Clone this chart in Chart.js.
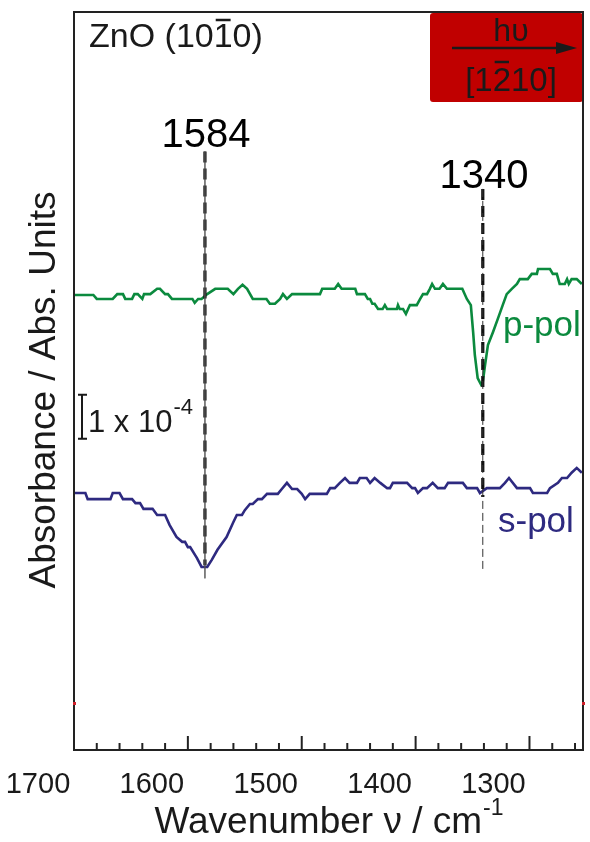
<!DOCTYPE html>
<html lang="en">
<head>
<meta charset="UTF-8">
<title>ZnO (10-10) IR</title>
<script src="https://cdn.jsdelivr.net/npm/chart.js"></script>
<style>
  html, body { margin: 0; padding: 0; background: #fff; }
  #wrap { width: 590px; height: 842px; }
</style>
</head>
<body>
<div id="wrap"><canvas id="grafico" width="590" height="842"></canvas></div>
<script>
// wavenumber (cm-1) and absorbance (1e-4 units, curves offset)
const pPolNu = [1700, 1683, 1680, 1666, 1662, 1657, 1655, 1649, 1647, 1644, 1640, 1638.5, 1633, 1627, 1624.5, 1620, 1617.5, 1614, 1596, 1594, 1591, 1588, 1583, 1576, 1565, 1560, 1556, 1552, 1548, 1543, 1531, 1528, 1523.5, 1519, 1516.5, 1513, 1508.5, 1484, 1482, 1471, 1468, 1465, 1453, 1451.5, 1444.5, 1442, 1440, 1438, 1436, 1433, 1429, 1427, 1425, 1416.5, 1415.5, 1414, 1411, 1408.5, 1405, 1399, 1396, 1393.5, 1390, 1387.5, 1385.5, 1383, 1379, 1376, 1372.5, 1359, 1355, 1351.5, 1349.5, 1348, 1345.5, 1342.5, 1341, 1339, 1336.5, 1332, 1327.5, 1323.5, 1320, 1315.5, 1311, 1308.5, 1301.5, 1298, 1293.5, 1292.5, 1282, 1279.5, 1276, 1273.5, 1269, 1267, 1265.5, 1263, 1258.5, 1254];
const pPolAbs = [10.34, 10.34, 10.25, 10.25, 10.36, 10.36, 10.25, 10.25, 10.36, 10.36, 10.25, 10.36, 10.36, 10.48, 10.48, 10.36, 10.36, 10.25, 10.25, 10.16, 10.25, 10.25, 10.36, 10.48, 10.48, 10.36, 10.48, 10.57, 10.48, 10.25, 10.25, 10.14, 10.14, 10.25, 10.36, 10.25, 10.36, 10.36, 10.48, 10.48, 10.59, 10.48, 10.48, 10.36, 10.36, 10.25, 10.25, 10.14, 10.14, 10.02, 10.02, 10.11, 10.02, 10.02, 10.11, 10.02, 10.02, 9.91, 10.11, 10.11, 10.25, 10.36, 10.36, 10.48, 10.59, 10.48, 10.48, 10.59, 10.48, 10.48, 10.25, 10.11, 9.50, 8.98, 8.45, 8.30, 8.36, 8.75, 9.20, 9.50, 9.82, 10.11, 10.36, 10.48, 10.59, 10.70, 10.70, 10.82, 10.82, 10.93, 10.93, 10.82, 10.82, 10.59, 10.59, 10.70, 10.59, 10.70, 10.70, 10.59];

const sPolNu = [1700, 1690, 1688, 1668, 1666, 1660, 1657, 1649, 1646, 1642, 1639, 1631, 1627, 1620, 1616, 1610, 1605, 1602.5, 1600, 1598, 1592, 1588, 1583, 1579, 1574, 1566, 1560, 1557, 1552.5, 1550, 1545.5, 1543, 1538.5, 1535, 1530.5, 1521, 1517.5, 1513, 1508.5, 1504, 1500, 1497, 1493, 1478, 1475, 1471, 1466.5, 1462, 1458, 1451.5, 1449, 1443, 1440, 1436, 1431, 1425, 1422.5, 1420, 1407.5, 1403, 1400.5, 1398, 1393.5, 1390, 1385, 1380.5, 1374.5, 1371.5, 1358.5, 1355, 1346, 1343.5, 1337.5, 1326, 1321.5, 1318, 1311, 1299.5, 1297, 1284.5, 1282, 1275, 1271.5, 1267, 1263, 1258.5, 1254];
const sPolAbs = [5.84, 5.84, 5.70, 5.70, 5.84, 5.84, 5.70, 5.70, 5.61, 5.61, 5.48, 5.48, 5.34, 5.34, 5.11, 4.84, 4.73, 4.73, 4.61, 4.61, 4.36, 4.16, 4.16, 4.32, 4.55, 4.84, 5.18, 5.34, 5.34, 5.45, 5.59, 5.59, 5.70, 5.70, 5.82, 5.82, 5.93, 6.07, 5.93, 5.93, 5.82, 5.70, 5.82, 5.82, 5.95, 5.95, 6.07, 6.18, 6.07, 6.07, 6.18, 6.18, 6.07, 6.18, 6.07, 5.95, 5.95, 6.07, 6.07, 5.95, 5.95, 5.84, 5.95, 5.95, 6.07, 5.95, 5.95, 6.07, 6.07, 5.95, 5.95, 5.84, 5.95, 5.95, 6.07, 6.18, 5.95, 5.95, 5.84, 5.84, 5.95, 6.07, 6.18, 6.18, 6.30, 6.41, 6.30];

const xTicks = [1700, 1600, 1500, 1400, 1300];
const peakNu = [1585, 1341];
const peakText = ['1584', '1340'];

const FONTE = '"Liberation Sans", Arial, sans-serif';
const PRETO = '#1a1a1a';

function pontos(xs, ys) {
  return xs.map((v, i) => ({ x: v, y: ys[i] }));
}

function texto(ctx, str, x, y, size, cor, align) {
  ctx.font = size + 'px ' + FONTE;
  ctx.fillStyle = cor;
  ctx.textAlign = align || 'left';
  ctx.textBaseline = 'alphabetic';
  ctx.fillText(str, x, y);
}

// text with a bar over one digit (Miller index)
function textoBarra(ctx, antes, barra, depois, x, y, size, cor, align, alturaBarra) {
  ctx.font = size + 'px ' + FONTE;
  const w1 = ctx.measureText(antes).width;
  const w2 = ctx.measureText(barra).width;
  const w3 = ctx.measureText(depois).width;
  let x0 = x;
  if (align === 'center') x0 = x - (w1 + w2 + w3) / 2;
  texto(ctx, antes + barra + depois, x0, y, size, cor, 'left');
  ctx.strokeStyle = cor;
  ctx.lineWidth = 2.5;
  ctx.beginPath();
  ctx.moveTo(x0 + w1 + 2, y - alturaBarra);
  ctx.lineTo(x0 + w1 + w2 - 2, y - alturaBarra);
  ctx.stroke();
}

const anotacoes = {
  id: 'anotacoes',
  beforeDatasetsDraw(chart) {
    const { ctx, chartArea: a } = chart;
    ctx.save();
    ctx.fillStyle = '#c00000';
    ctx.beginPath();
    ctx.roundRect(430, a.top + 1, a.right - 430, 89, 3);
    ctx.fill();
    ctx.restore();
  },
  afterDatasetsDraw(chart) {
    const { ctx, chartArea: a, scales: { x, y } } = chart;
    ctx.save();

    // frame
    ctx.strokeStyle = '#222';
    ctx.lineWidth = 2;
    ctx.strokeRect(a.left, a.top, a.right - a.left, a.bottom - a.top);

    // inward ticks on the bottom axis
    for (let v = 1700; v >= x.min; v -= 20) {
      const px = x.getPixelForValue(v);
      const len = v % 100 === 0 ? 14 : 7;
      ctx.beginPath();
      ctx.moveTo(px, a.bottom);
      ctx.lineTo(px, a.bottom - len);
      ctx.stroke();
    }

    // small red marks on both sides of the frame
    ctx.fillStyle = '#d0202a';
    ctx.fillRect(a.left - 1, 702, 3, 3);
    ctx.fillRect(a.right - 1, 702, 3, 3);

    // sample label
    textoBarra(ctx, 'ZnO (10', '1', '0)', a.left + 15, 47, 34, PRETO, 'left', 27);

    // polarisation box content
    const cx = 511;
    texto(ctx, 'h\u03C5', cx, 41, 32, PRETO, 'center');
    ctx.strokeStyle = PRETO;
    ctx.lineWidth = 2.5;
    ctx.beginPath();
    ctx.moveTo(452, 48);
    ctx.lineTo(560, 48);
    ctx.stroke();
    ctx.fillStyle = PRETO;
    ctx.beginPath();
    ctx.moveTo(577, 48);
    ctx.lineTo(556, 42);
    ctx.lineTo(556, 54);
    ctx.closePath();
    ctx.fill();
    textoBarra(ctx, '[1', '2', '10]', cx, 91, 33, PRETO, 'center', 29);

    // peak positions
    texto(ctx, peakText[0], x.getPixelForValue(1584), 147, 40, '#000', 'center');
    texto(ctx, peakText[1], x.getPixelForValue(1340), 188, 40, '#000', 'center');

    // curve labels
    texto(ctx, 'p-pol', 503, 336, 35, '#0b8a3e', 'left');
    texto(ctx, 's-pol', 498, 532, 35, '#2e2a80', 'left');

    // scale bar: 1 x 10^-4
    const y0 = y.getPixelForValue(7.07), y1 = y.getPixelForValue(8.07);
    ctx.strokeStyle = PRETO;
    ctx.lineWidth = 2;
    ctx.beginPath();
    ctx.moveTo(82, y0); ctx.lineTo(82, y1);
    ctx.moveTo(78, y0); ctx.lineTo(87, y0);
    ctx.moveTo(78, y1); ctx.lineTo(87, y1);
    ctx.stroke();
    texto(ctx, '1 x 10', 88, 432, 31, PRETO, 'left');
    ctx.font = '31px ' + FONTE;
    const wb = ctx.measureText('1 x 10').width;
    texto(ctx, '-4', 88 + wb + 1, 414, 22, PRETO, 'left');

    // y axis title
    ctx.save();
    ctx.translate(55, 390);
    ctx.rotate(-Math.PI / 2);
    texto(ctx, 'Absorbance / Abs. Units', 0, 0, 37, PRETO, 'center');
    ctx.restore();

    // x axis title with superscript
    ctx.font = '37px ' + FONTE;
    const t1 = 'Wavenumber \u03BD / cm';
    const w1 = ctx.measureText(t1).width;
    ctx.font = '23px ' + FONTE;
    const w2 = ctx.measureText('-1').width;
    const tx = (a.left + a.right) / 2 - (w1 + w2) / 2;
    texto(ctx, t1, tx, 833, 37, PRETO, 'left');
    texto(ctx, '-1', tx + w1 + 1, 815, 23, PRETO, 'left');

    ctx.restore();
  }
};

const ctx = document.getElementById('grafico').getContext('2d');
const grafico = new Chart(ctx, {
  type: 'line',
  data: {
    datasets: [
      { label: 'guia 1584 fina', data: [{ x: peakNu[0], y: 13.6 }, { x: peakNu[0], y: 3.9 }], borderColor: '#555', borderWidth: 0.7 },
      { label: 'guia 1584', data: [{ x: peakNu[0], y: 13.6 }, { x: peakNu[0], y: 4.2 }], borderColor: '#111', borderWidth: 3.2, borderDash: [11, 6] },
      { label: 'guia 1340 fina', data: [{ x: peakNu[1], y: 12.75 }, { x: peakNu[1], y: 4.05 }], borderColor: '#333', borderWidth: 1, borderDash: [8, 4] },
      { label: 'guia 1340', data: [{ x: peakNu[1], y: 12.75 }, { x: peakNu[1], y: 5.75 }], borderColor: '#111', borderWidth: 3.2, borderDash: [11, 6] },
      { label: 'p-pol', data: pontos(pPolNu, pPolAbs), borderColor: '#0b8a3e', borderWidth: 2.6 },
      { label: 's-pol', data: pontos(sPolNu, sPolAbs), borderColor: '#2e2a80', borderWidth: 2.6 }
    ]
  },
  options: {
    responsive: false,
    animation: false,
    layout: { padding: { top: 12, right: 7, left: 0, bottom: 0 } },
    elements: { point: { radius: 0 }, line: { tension: 0, fill: false } },
    plugins: { legend: { display: false }, tooltip: { enabled: false } },
    scales: {
      x: {
        type: 'linear',
        reverse: true,
        min: 1253,
        max: 1700,
        afterFit: (s) => { s.height = 92; },
        afterBuildTicks: (s) => { s.ticks = xTicks.map(v => ({ value: v })); },
        grid: { display: false, drawTicks: false },
        border: { display: false },
        ticks: {
          font: { family: FONTE, size: 29 },
          color: PRETO,
          padding: 18,
          labelOffset: -36,
          maxRotation: 0,
          autoSkip: false,
          callback: (v) => String(v)
        }
      },
      y: {
        min: 0,
        max: 16.77,
        afterFit: (s) => { s.width = 74; },
        grid: { display: false, drawTicks: false },
        border: { display: false },
        ticks: { display: false },
        title: { display: false }
      }
    }
  },
  plugins: [anotacoes]
});
</script>
</body>
</html>
